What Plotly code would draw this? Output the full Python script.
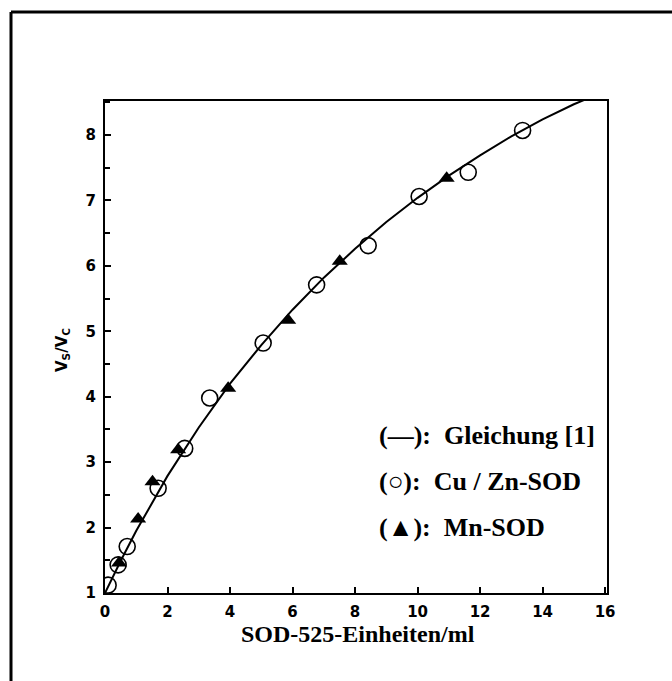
import plotly.graph_objects as go

# Fit curve "Gleichung [1]"
curve_x = [0, 0.5, 1, 2, 3, 4, 5, 6, 7, 8, 9, 10, 11, 12, 13, 14, 15, 15.35]
curve_y = [1.0, 1.49, 1.95, 2.79, 3.53, 4.20, 4.79, 5.33, 5.82, 6.26, 6.67, 7.04, 7.38, 7.69, 7.98, 8.24, 8.47, 8.54]

# Cu / Zn-SOD (open circles)
cuzn_x = [0.1, 0.42, 0.71, 1.7, 2.55, 3.35, 5.06, 6.77, 8.42, 10.05, 11.62, 13.36]
cuzn_y = [1.12, 1.43, 1.71, 2.6, 3.21, 3.98, 4.82, 5.71, 6.31, 7.06, 7.43, 8.07]

# Mn-SOD (filled triangles)
mn_x = [0.45, 1.06, 1.52, 2.34, 3.94, 5.86, 7.51, 10.93]
mn_y = [1.46, 2.13, 2.70, 3.19, 4.13, 5.17, 6.07, 7.34]

x_ticks = [0, 2, 4, 6, 8, 10, 12, 14, 16]
y_ticks = [1, 2, 3, 4, 5, 6, 7, 8]

legend_lines = ["(—):\u00a0 Gleichung [1]", "(○):\u00a0 Cu / Zn-SOD", "(▲):\u00a0 Mn-SOD"]
x_title = "SOD-525-Einheiten/ml"
y_title = "V<sub>S</sub>/V<sub>C</sub>"

fig = go.Figure()
fig.add_trace(go.Scatter(x=curve_x, y=curve_y, mode="lines", name="Gleichung [1]",
                         line=dict(color="black", width=2), showlegend=False))
fig.add_trace(go.Scatter(x=cuzn_x, y=cuzn_y, mode="markers", name="Cu / Zn-SOD",
                         marker=dict(symbol="circle-open", size=16, color="black",
                                     line=dict(width=1.6, color="black")),
                         showlegend=False))
fig.add_trace(go.Scatter(x=mn_x, y=mn_y, mode="markers", name="Mn-SOD",
                         marker=dict(symbol="triangle-up", size=14, color="black"),
                         showlegend=False))

tickfont = dict(family="DejaVu Sans", size=15, color="black", weight="bold")

fig.update_xaxes(range=[0, 16.06], tickvals=x_ticks, ticktext=[str(v) for v in x_ticks],
                 ticks="inside", ticklen=6, tickwidth=2, tickcolor="black",
                 showline=True, linewidth=2, linecolor="black", mirror=True,
                 showgrid=False, zeroline=False, tickfont=tickfont, ticklabelstandoff=4)
fig.update_yaxes(range=[1, 8.52], tickvals=y_ticks, ticktext=[str(v) for v in y_ticks],
                 ticks="inside", ticklen=6, tickwidth=2, tickcolor="black",
                 minor=dict(ticks="inside", ticklen=5, tickwidth=2, tickcolor="black", dtick=0.5, tick0=1),
                 showline=True, linewidth=2, linecolor="black", mirror=True,
                 showgrid=False, zeroline=False, tickfont=tickfont, ticklabelstandoff=4)

L, R, T, B = 105, 65, 101, 88
W, H = 672, 681
pw, ph = W - L - R, H - T - B

def px(x):
    return (x - L) / pw

def py(y):
    return (H - B - y) / ph

serif_family = "Liberation Serif, Times New Roman, serif"
serif = dict(family=serif_family, size=26, color="black", weight="bold")
annotations = []
for i, txt in enumerate(legend_lines):
    annotations.append(dict(x=px(377), y=py(435 + 46 * i), xref="paper", yref="paper",
                            text=txt, showarrow=False, xanchor="left", yanchor="middle",
                            font=serif))
annotations.append(dict(x=px(358), y=py(634), xref="paper", yref="paper", text=x_title,
                        showarrow=False, xanchor="center", yanchor="middle",
                        font=dict(family=serif_family, size=24, color="black", weight="bold")))
annotations.append(dict(x=px(62), y=py(350), xref="paper", yref="paper", text=y_title,
                        showarrow=False, textangle=-90, xanchor="center", yanchor="middle",
                        font=dict(family="DejaVu Sans", size=15, color="black", weight="bold")))

shapes = [
    dict(type="line", xref="paper", yref="paper", x0=px(11), x1=px(11), y0=py(H + 5), y1=py(12),
         line=dict(color="black", width=3)),
    dict(type="line", xref="paper", yref="paper", x0=px(11), x1=px(W + 5), y0=py(12), y1=py(12),
         line=dict(color="black", width=3)),
]

fig.update_layout(width=W, height=H, margin=dict(l=L, r=R, t=T, b=B),
                  paper_bgcolor="white", plot_bgcolor="white",
                  annotations=annotations, shapes=shapes, showlegend=False)

fig.write_html("out.html")
